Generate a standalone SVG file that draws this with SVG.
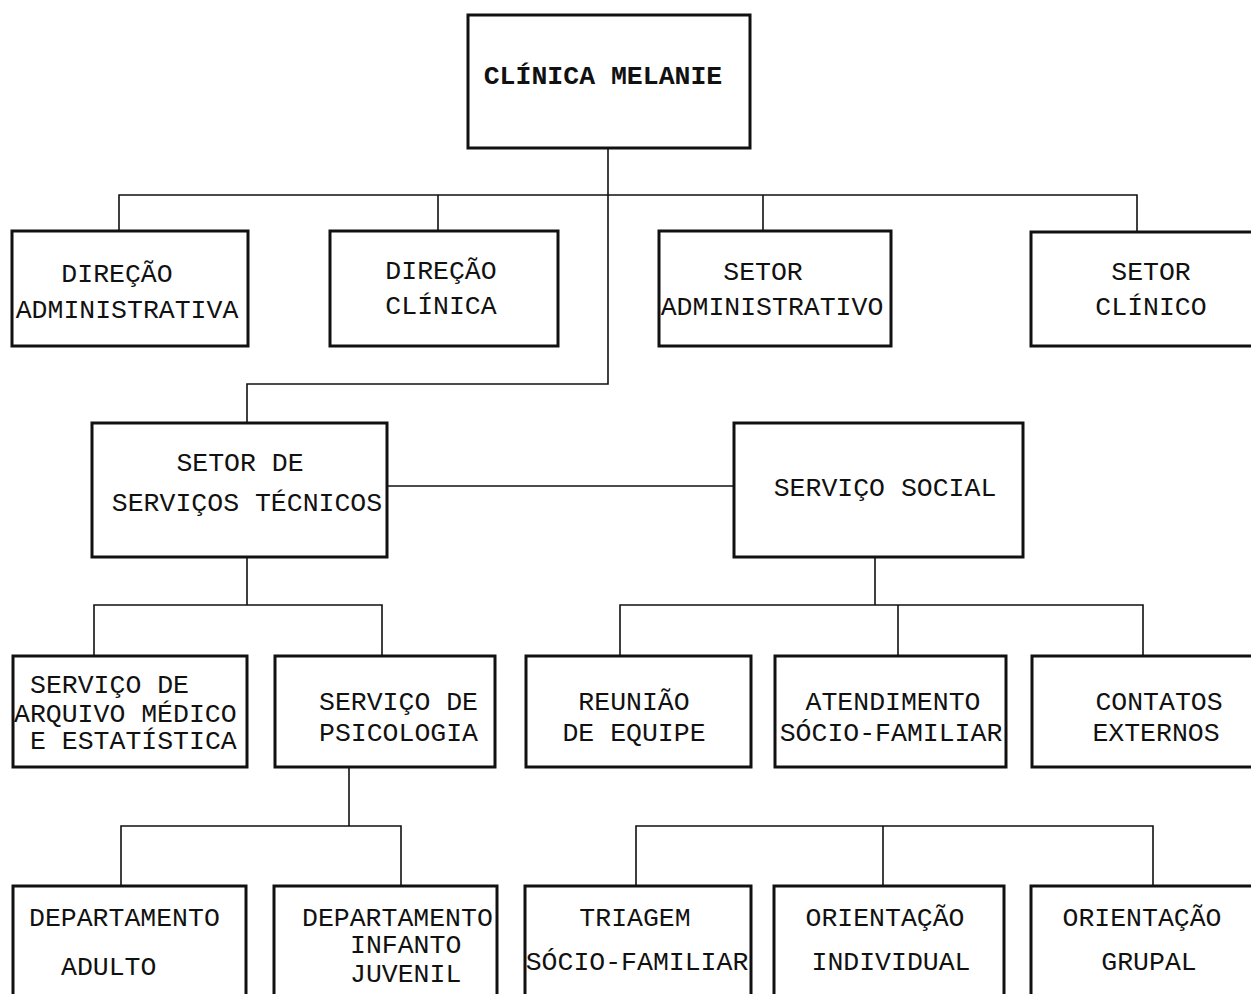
<svg xmlns="http://www.w3.org/2000/svg" width="1251" height="994" viewBox="0 0 1251 994">
<style>
.box{fill:#fff;stroke:#111;stroke-width:3}
.ln{fill:none;stroke:#111;stroke-width:1.6}
text{font-family:"Liberation Mono","Courier New",monospace;font-size:26.5px;fill:#111;text-anchor:middle}
.b{font-weight:bold}
.s{text-anchor:start}
</style>
<rect width="1251" height="994" fill="#fff"/>
<g id="connectors">
<path class="ln" d="M608 148V384H247V424"/>
<path class="ln" d="M119 231V195H1137V232M438 195V231M763 195V231"/>
<path class="ln" d="M387 486H734"/>
<path class="ln" d="M247 557V605M94 656V605H382V656"/>
<path class="ln" d="M875 557V605M620 656V605H1143V656M898 605V656"/>
<path class="ln" d="M349 767V826M121 886V826H401V886"/>
<path class="ln" d="M636 886V826H1153V886M883 826V886"/>
</g>
<g id="clinica-melanie"><rect class="box" x="468" y="15" width="282" height="133"/><text class="b" x="603" y="84">CLÍNICA MELANIE</text></g>
<g id="direcao-adm"><rect class="box" x="12" y="231" width="236" height="115"/><text x="117" y="282">DIREÇÃO</text><text x="127" y="318">ADMINISTRATIVA</text></g>
<g id="direcao-clinica"><rect class="box" x="330" y="231" width="228" height="115"/><text x="441" y="279">DIREÇÃO</text><text x="441" y="314">CLÍNICA</text></g>
<g id="setor-adm"><rect class="box" x="659" y="231" width="232" height="115"/><text x="763" y="280">SETOR</text><text x="772" y="315">ADMINISTRATIVO</text></g>
<g id="setor-clinico"><rect class="box" x="1031" y="232" width="230" height="114"/><text x="1151" y="280">SETOR</text><text x="1151" y="315">CLÍNICO</text></g>
<g id="setor-servicos-tecnicos"><rect class="box" x="92" y="423" width="295" height="134"/><text x="240" y="471">SETOR DE</text><text x="247" y="511">SERVIÇOS TÉCNICOS</text></g>
<g id="servico-social"><rect class="box" x="734" y="423" width="289" height="134"/><text x="885" y="496">SERVIÇO SOCIAL</text></g>
<g id="arquivo-medico"><rect class="box" x="13" y="656" width="234" height="111"/><text class="s" x="30" y="693">SERVIÇO DE</text><text class="s" x="14" y="722">ARQUIVO MÉDICO</text><text class="s" x="30" y="749">E ESTATÍSTICA</text></g>
<g id="psicologia"><rect class="box" x="275" y="656" width="220" height="111"/><text class="s" x="319" y="710">SERVIÇO DE</text><text class="s" x="319" y="741">PSICOLOGIA</text></g>
<g id="reuniao"><rect class="box" x="526" y="656" width="225" height="111"/><text x="634" y="710">REUNIÃO</text><text x="634" y="741">DE EQUIPE</text></g>
<g id="atendimento"><rect class="box" x="775" y="656" width="231" height="111"/><text x="893" y="710">ATENDIMENTO</text><text x="891" y="741">SÓCIO-FAMILIAR</text></g>
<g id="contatos"><rect class="box" x="1032" y="656" width="229" height="111"/><text x="1159" y="710">CONTATOS</text><text x="1156" y="741">EXTERNOS</text></g>
<g id="dep-adulto"><rect class="box" x="13" y="886" width="233" height="130"/><text class="s" x="29" y="926">DEPARTAMENTO</text><text class="s" x="61" y="975">ADULTO</text></g>
<g id="dep-infanto"><rect class="box" x="274" y="886" width="223" height="130"/><text class="s" x="302" y="926">DEPARTAMENTO</text><text class="s" x="350" y="953">INFANTO</text><text class="s" x="350" y="982">JUVENIL</text></g>
<g id="triagem"><rect class="box" x="525" y="886" width="226" height="130"/><text x="635" y="926">TRIAGEM</text><text x="637" y="970">SÓCIO-FAMILIAR</text></g>
<g id="orient-individual"><rect class="box" x="774" y="886" width="230" height="130"/><text x="885" y="926">ORIENTAÇÃO</text><text x="891" y="970">INDIVIDUAL</text></g>
<g id="orient-grupal"><rect class="box" x="1031" y="886" width="230" height="130"/><text x="1142" y="926">ORIENTAÇÃO</text><text x="1149" y="970">GRUPAL</text></g>
</svg>
